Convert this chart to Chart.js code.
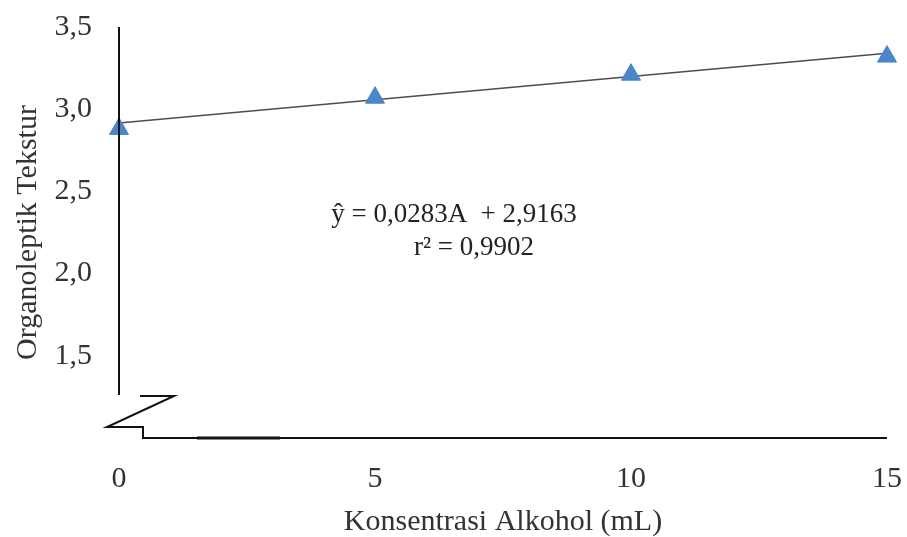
<!DOCTYPE html>
<html>
<head>
<meta charset="utf-8">
<script src="https://cdn.jsdelivr.net/npm/chart.js@4.4.0/dist/chart.umd.min.js"></script>
<style>
  html, body { margin: 0; padding: 0; background: #fff; }
  #wrap { width: 907px; height: 537px; }
</style>
</head>
<body>
<div id="wrap"><canvas id="grafik"></canvas></div>
<script>
// data
const konsentrasi = [0, 5, 10, 15];
const tekstur = [2.88, 3.07, 3.21, 3.32];
const garisX = [0, 15];
const garisY = [2.9163, 3.3408];
const persamaan = ["ŷ = 0,0283A  + 2,9163", "r² = 0,9902"];
const yTicks = [1.0, 1.5, 2.0, 2.5, 3.0, 3.5];

const serif = "'Liberation Serif', 'DejaVu Serif', serif";

const pluginSumbu = {
  id: "sumbu",
  afterDraw(chart) {
    const ctx = chart.ctx;
    const a = chart.chartArea;
    ctx.save();
    ctx.strokeStyle = "#111";
    ctx.lineWidth = 2;
    ctx.beginPath();
    // sumbu y terpotong
    ctx.moveTo(a.left, a.top);
    ctx.lineTo(a.left, a.bottom - 43);
    // tanda patah
    ctx.moveTo(a.left + 21, a.bottom - 42);
    ctx.lineTo(a.left + 55, a.bottom - 42);
    ctx.lineTo(a.left - 12, a.bottom - 11);
    ctx.lineTo(a.left + 24, a.bottom - 11);
    ctx.lineTo(a.left + 24, a.bottom);
    ctx.lineTo(a.right, a.bottom);
    ctx.stroke();
    ctx.lineWidth = 3;
    ctx.beginPath();
    ctx.moveTo(a.left + 78, a.bottom);
    ctx.lineTo(a.left + 161, a.bottom);
    ctx.stroke();

    // persamaan regresi
    ctx.fillStyle = "#222";
    ctx.font = "27px " + serif;
    ctx.textAlign = "center";
    ctx.textBaseline = "middle";
    ctx.fillText(persamaan[0], 454, 215);
    ctx.fillText(persamaan[1], 474, 248);
    ctx.restore();
  }
};

new Chart(document.getElementById("grafik"), {
  type: "scatter",
  data: {
    datasets: [
      {
        type: "line",
        data: garisX.map((x, i) => ({ x: x, y: garisY[i] })),
        borderColor: "#4d4d4d",
        borderWidth: 1.5,
        pointRadius: 0,
        fill: false,
        clip: false,
        order: 2
      },
      {
        data: konsentrasi.map((x, i) => ({ x: x, y: tekstur[i] })),
        pointStyle: "triangle",
        pointRadius: 11,
        backgroundColor: "#4a86c8",
        borderColor: "#4a86c8",
        borderWidth: 1,
        clip: false,
        order: 1
      }
    ]
  },
  options: {
    responsive: true,
    maintainAspectRatio: false,
    animation: false,
    layout: { padding: { left: 8, right: 0, top: 0, bottom: 0 } },
    plugins: { legend: { display: false }, tooltip: { enabled: false } },
    scales: {
      x: {
        type: "linear",
        min: 0,
        max: 15,
        grid: { display: false, drawTicks: false },
        border: { display: false },
        ticks: {
          stepSize: 5,
          padding: 23,
          color: "#333",
          font: { family: serif, size: 30 }
        },
        title: {
          display: true,
          text: "Konsentrasi Alkohol (mL)",
          color: "#333",
          padding: { top: 0, bottom: -3 },
          font: { family: serif, size: 30 }
        },
        afterFit(s) {
          s.height = 99;
          s.paddingRight = 20;
        }
      },
      y: {
        min: 1,
        max: 3.5,
        afterBuildTicks(s) { s.ticks = yTicks.map(v => ({ value: v })); },
        grid: { display: false, drawTicks: false },
        border: { display: false },
        ticks: {
          padding: 27,
          color: "#333",
          font: { family: serif, size: 30 },
          callback: v => v === 1 ? "" : v.toFixed(1).replace(".", ",")
        },
        title: {
          display: true,
          text: "Organoleptik Tekstur",
          color: "#333",
          padding: { top: 2, bottom: 0 },
          font: { family: serif, size: 30 }
        },
        afterFit(s) {
          s.width = 111;
          s.paddingTop = 27;
        }
      }
    }
  },
  plugins: [pluginSumbu]
});
</script>
</body>
</html>
